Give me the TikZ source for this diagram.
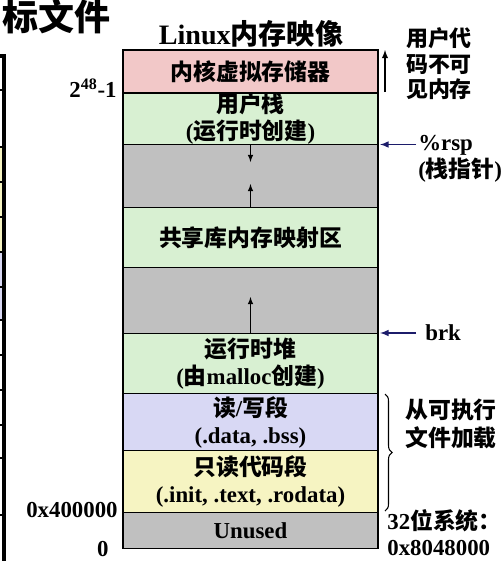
\documentclass[tikz,border=0pt]{standalone}
\usepackage{fontspec}
\setmainfont{Liberation Serif}
\newfontfamily\cjk{Noto Sans CJK SC}
\usetikzlibrary{positioning,decorations.pathreplacing}
\definecolor{kernpink}{HTML}{F2C8C8}
\definecolor{usergreen}{HTML}{D8F0D2}
\definecolor{holegray}{HTML}{C0C0C0}
\definecolor{rwblue}{HTML}{D8D8F4}
\definecolor{royellow}{HTML}{F6F4C2}
\definecolor{ptrnavy}{HTML}{1C1C6A}

\begin{document}
\begin{tikzpicture}[x=0.02cm,y=-0.02cm]
\tikzset{seg/.style={draw, line width=0.7pt, minimum width=5.1cm, inner sep=0pt, outer sep=0pt, align=center, font=\bfseries\fontsize{13}{15.5}\selectfont},
  lab/.style={inner sep=0pt, align=left, font=\bfseries\fontsize{13}{15}\selectfont},
  ptr/.style={-latex, ptrnavy, line width=0.7pt}}
\clip (0,0) rectangle (501,561);
\useasboundingbox (0,0) rectangle (501,561);
% piece of the neighbouring figure
\node[anchor=east, inner sep=0pt, font=\cjk\bfseries\fontsize{20.5}{20.5}\selectfont] (oldtitle) at (111,17) {目标文件};
\fill[royellow] (0,147) rectangle (2,252);
\fill[rwblue] (0,252) rectangle (2,320);
\draw[line width=2pt] (0,56) -- (4,56) -- (4,561);
\foreach \yy in {90,147,182,217,252,287,320,355,390,425,458,515}
  \draw[line width=1.5pt] (0,\yy) -- (4,\yy);
% memory map
\node[font=\bfseries\fontsize{16}{16}\selectfont] (title) at (251,34) {Linux{\cjk 内存映像}};
\node[seg, fill=kernpink, minimum height=0.86cm, anchor=north] (kern) at (250.5,50) {\cjk 内核虚拟存储器};
\node[seg, fill=usergreen, minimum height=1.02cm, below=0pt of kern] (ustack) {{\cjk 用户栈}\\({\cjk 运行时创建})};
\node[seg, fill=holegray, minimum height=1.26cm, below=0pt of ustack] (gap1) {};
\node[seg, fill=usergreen, minimum height=1.2cm, below=0pt of gap1] (shlib) {\cjk 共享库内存映射区};
\node[seg, fill=holegray, minimum height=1.32cm, below=0pt of shlib] (gap2) {};
\node[seg, fill=usergreen, minimum height=1.2cm, below=0pt of gap2] (heap) {{\cjk 运行时堆}\\({\cjk 由}malloc{\cjk 创建})};
\node[seg, fill=rwblue, minimum height=1.14cm, below=0pt of heap] (rwseg) {{\cjk 读}/{\cjk 写段}\\(.data, .bss)};
\node[seg, fill=royellow, minimum height=1.24cm, below=0pt of rwseg] (roseg) {{\cjk 只读代码段}\\(.init, .text, .rodata)};
\node[seg, fill=holegray, minimum height=0.72cm, below=0pt of roseg] (unused) {Unused};
\coordinate (stacktip) at (250.5,162);
\coordinate (mmaptip) at (250.5,184);
\coordinate (heaptip) at (250.5,297);
\draw[-latex] (ustack.south) -- (stacktip);
\draw[-latex] (shlib.north) -- (mmaptip);
\draw[-latex] (heap.north) -- (heaptip);
% addresses
\node[lab, anchor=east] (topaddr) at (117,88) {2$^{\mathbf{48}}$-1};
\node[lab, anchor=east] (textaddr) at (118,510) {0x400000};
\node[lab, anchor=east] (zeroaddr) at (109,549) {0};
% right side notes
\coordinate (kernbot) at (385,92);
\coordinate (kerntop) at (385,50);
\draw[-latex, line width=0.6pt] (kernbot) -- (kerntop);
\node[lab, font=\cjk\bfseries\fontsize{12.5}{14.5}\selectfont] (hidden) at (439,64) {用户代\\码不可\\见内存};
\coordinate (rspstart) at (416,144.5);
\coordinate (rspend) at (380,144.5);
\draw[ptr] (rspstart) -- (rspend);
\node[lab, anchor=north west, font=\bfseries\fontsize{13}{15.5}\selectfont] (rsp) at (418,135) {\%rsp\\({\cjk 栈指针})};
\coordinate (brkstart) at (416,333);
\coordinate (brkend) at (380,333);
\draw[ptr] (brkstart) -- (brkend);
\node[lab, anchor=west] (brk) at (425,333) {brk};
\coordinate (loadtop) at (385,394);
\coordinate (loadbot) at (385,511);
\draw[decorate, decoration={brace, amplitude=4pt}, line width=0.6pt] (loadtop) -- (loadbot);
\node[lab, font=\cjk\bfseries\fontsize{13}{15.5}\selectfont] (loaded) at (451,424) {从可执行\\文件加载};
\node[lab, anchor=north west] (sys32) at (387,509) {32{\cjk 位系统：}\\0x8048000};
\end{tikzpicture}
\end{document}
